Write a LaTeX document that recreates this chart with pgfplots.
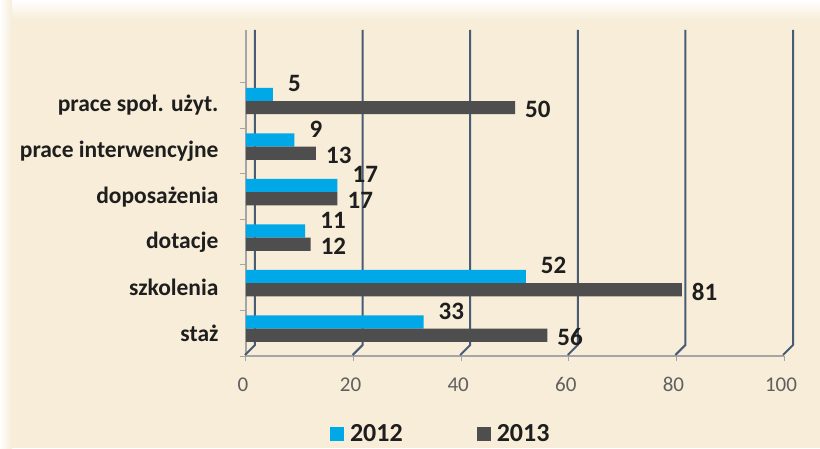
\documentclass[border=0pt]{standalone}
\usepackage{pgfplots}
\pgfplotsset{compat=1.18}
\usepackage{fontspec}
\setmainfont{Carlito}
\definecolor{bg}{RGB}{247,237,216}
\definecolor{cy}{RGB}{0,168,232}
\definecolor{dg}{RGB}{78,78,78}
\definecolor{gridc}{RGB}{72,92,118}
\definecolor{axc}{RGB}{165,165,165}
\definecolor{tickc}{RGB}{95,95,95}
\definecolor{lab}{RGB}{30,30,30}
\begin{document}
\begin{tikzpicture}
\useasboundingbox (0,0) rectangle (820pt,448pt);
\fill[bg] (0,0) rectangle (820pt,448pt);
\shade[top color=white, bottom color=bg] (0,428pt) rectangle (820pt,448pt);
\shade[left color=white, right color=bg] (0,0) rectangle (12pt,448pt);
\begin{axis}[
  at={(246pt,92pt)}, anchor=south west,
  scale only axis, width=538pt, height=326pt,
  xmin=0, xmax=100, ymin=-0.5, ymax=6.66,
  xbar, bar width=0.29,
  xtick={0,20,40,60,80,100},
  ytick={0,1,2,3,4,5},
  yticklabels={staż,szkolenia,dotacje,doposażenia,prace interwencyjne,prace społ. użyt.},
  minor ytick={-0.5,0.5,1.5,2.5,3.5,4.5,5.5},
  tick align=outside,
  major tick length=5pt, minor tick length=6pt,
  xtick style={axc, line width=1pt},
  minor y tick style={axc, line width=1pt},
  major y tick style={draw=none},
  axis x line*=bottom, axis y line*=left,
  axis line style={axc, line width=1.2pt, -},
  xticklabel style={font=\fontsize{21}{24}\selectfont, text=tickc, xshift=-3pt, yshift=-13pt},
  yticklabel style={font=\bfseries\fontsize{23.5}{27}\selectfont, text=lab, xshift=-19pt},
  /pgf/number format/assume math mode=true,
  nodes near coords,
  nodes near coords style={font=\bfseries\fontsize{25}{28}\selectfont, text=lab, inner sep=0pt, anchor=west},
  legend style={at={(0.362,-0.238)}, anchor=center, draw=none, fill=none,
    legend columns=2, font=\bfseries\fontsize{26}{28}\selectfont, text=lab,
    inner sep=1pt,
    /tikz/every even column/.append style={column sep=72pt}},
  clip=false,
]
\pgfplotsinvokeforeach{0,20,40,60,80,100}{
  \draw[gridc, line width=2pt] ([xshift=9pt]axis cs:#1,6.66) -- ([xshift=9pt,yshift=11pt]axis cs:#1,-0.5) -- ([xshift=-1pt,yshift=1pt]axis cs:#1,-0.5);
}
\addplot[fill=cy, draw=none, bar shift=0.245,
  nodes near coords style={xshift=15pt, yshift=11pt},
  legend image code/.code={\fill[cy] (0pt,-7pt) rectangle (14pt,7pt); \path (18pt,0pt);}]
  coordinates {(33,0) (52,1) (11,2) (17,3) (9,4) (5,5)};
\addplot[fill=dg, draw=none, bar shift=-0.045,
  nodes near coords style={xshift=10pt, yshift=-2pt},
  legend image code/.code={\fill[dg] (0pt,-7pt) rectangle (14pt,7pt); \path (18pt,0pt);}]
  coordinates {(56,0) (81,1) (12,2) (17,3) (13,4) (50,5)};
\legend{2012,2013}
\end{axis}
\end{tikzpicture}
\end{document}
